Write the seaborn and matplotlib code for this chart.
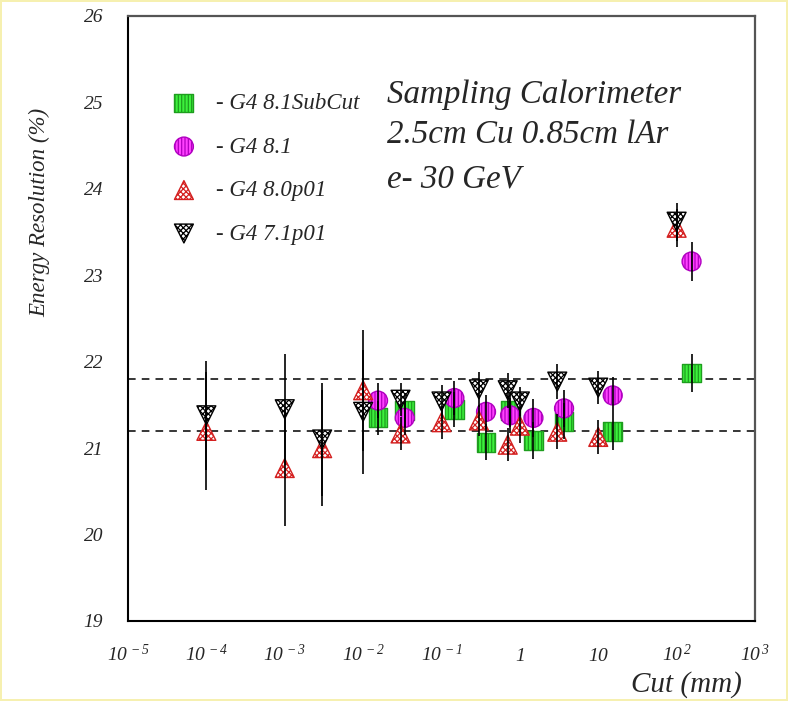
import matplotlib
matplotlib.use("Agg")
import matplotlib.pyplot as plt
import matplotlib.ticker as mticker
import numpy as np
import pandas as pd
import seaborn as sns

# cut values (mm)
cut_old = [1e-4, 1e-3, 3e-3, 1e-2, 3e-2, 0.1, 0.3, 0.7, 1, 3, 10, 100]
cut_new = [0.0155, 0.034, 0.146, 0.37, 0.75, 1.49, 3.66, 15.3, 155]

# G4 7.1p01
res_g471 = [21.38, 21.45, 21.10, 21.42, 21.56, 21.54, 21.68, 21.67, 21.54, 21.77, 21.70, 23.62]
err_g471 = [0.63, 0.64, 0.65, 0.72, 0.19, 0.19, 0.20, 0.20, 0.17, 0.20, 0.19, 0.22]
# G4 8.0p01
res_g480 = [21.20, 20.77, 21.00, 21.67, 21.17, 21.30, 21.32, 21.04, 21.26, 21.19, 21.13, 23.55]
err_g480 = [0.68, 0.67, 0.67, 0.70, 0.19, 0.19, 0.18, 0.19, 0.20, 0.20, 0.20, 0.22]
# G4 8.1
res_g481 = [21.55, 21.35, 21.58, 21.42, 21.38, 21.35, 21.46, 21.61, 23.16]
err_g481 = [0.20, 0.20, 0.20, 0.20, 0.20, 0.22, 0.21, 0.21, 0.23]
# G4 8.1SubCut
res_sub = [21.35, 21.44, 21.45, 21.07, 21.44, 21.09, 21.31, 21.19, 21.87]
err_sub = [0.20, 0.20, 0.20, 0.21, 0.20, 0.21, 0.21, 0.21, 0.22]

ref_lines = [21.2, 21.8]
xtick_vals = [1e-5, 1e-4, 1e-3, 1e-2, 1e-1, 1, 10, 100, 1000]
xtick_labels = [r"$10^{\,-5}$", r"$10^{\,-4}$", r"$10^{\,-3}$", r"$10^{\,-2}$",
                r"$10^{\,-1}$", r"$1$", r"$10$", r"$10^{\,2}$", r"$10^{\,3}$"]
info_lines = ["Sampling Calorimeter", "2.5cm Cu 0.85cm lAr", "e- 30 GeV"]

sns.set_style("white")
plt.rcParams["font.family"] = ["Liberation Serif", "DejaVu Serif"]
plt.rcParams["font.style"] = "italic"
plt.rcParams["mathtext.fontset"] = "custom"
plt.rcParams["mathtext.rm"] = "Liberation Serif:italic"
plt.rcParams["mathtext.it"] = "Liberation Serif:italic"
plt.rcParams["hatch.linewidth"] = 0.9

fig = plt.figure(figsize=(7.88, 7.01), dpi=100, facecolor="white",
                 edgecolor="#f6f0b0", linewidth=1.5)
ax = fig.add_axes([128 / 788, 1 - 621 / 701, 627 / 788, 605 / 701])

series = [
    ("- G4 8.1SubCut", cut_new, res_sub, err_sub, "s", "#3cf03c", "#1e9e1e", "|||||"),
    ("- G4 8.1", cut_new, res_g481, err_g481, "o", "#ff40ff", "#b000c0", "|||||"),
    ("- G4 8.0p01", cut_old, res_g480, err_g480, "^", "white", "#d42020", "xxxxxx"),
    ("- G4 7.1p01", cut_old, res_g471, err_g471, "v", "white", "black", "xxxxxx"),
]

handles = []
for name, xs, ys, es, mk, fc, ec, hat in series:
    df = pd.DataFrame({"cut": xs, "res": ys, "err": es})
    sns.scatterplot(data=df, x="cut", y="res", marker=mk, s=185, color=fc,
                    edgecolor=ec, linewidth=1.0, hatch=hat, ax=ax, zorder=2,
                    label=name, legend=False)
    handles.append(ax.collections[-1])

for name, xs, ys, es, mk, fc, ec, hat in series:
    ax.errorbar(xs, ys, yerr=es, fmt="none", ecolor="black", elinewidth=1.2,
                capsize=0, zorder=3)

for v in ref_lines:
    ax.axhline(v, color="black", lw=1.1, ls=(0, (5, 4)), zorder=1)

ax.set_xscale("log")
ax.set_xlim(1e-5, 1e3)
ax.set_ylim(19, 26)

ax.xaxis.set_major_locator(mticker.FixedLocator(xtick_vals))
ax.xaxis.set_major_formatter(mticker.FixedFormatter(xtick_labels))
ax.xaxis.set_minor_locator(mticker.LogLocator(base=10, subs=np.arange(2, 10), numticks=20))
ax.xaxis.set_minor_formatter(mticker.NullFormatter())
ax.yaxis.set_major_locator(mticker.MultipleLocator(1))
ax.yaxis.set_minor_locator(mticker.MultipleLocator(0.2))

ax.tick_params(axis="both", which="both", direction="in", color="black",
               top=False, right=False, width=1.0)
ax.tick_params(axis="both", which="major", length=17)
ax.tick_params(axis="both", which="minor", length=8.5)
ax.tick_params(axis="y", which="major", pad=18, labelsize=14)
ax.tick_params(axis="x", which="major", pad=29, labelsize=14)
for lab in ax.get_xticklabels():
    lab.set_verticalalignment("baseline")

ax.set_xlabel("")
ax.set_ylabel("")
for side in ["left", "bottom"]:
    ax.spines[side].set_color("black")
    ax.spines[side].set_linewidth(1.5)
for side in ["top", "right"]:
    ax.spines[side].set_color("#555555")
    ax.spines[side].set_linewidth(1.6)

leg = ax.legend(handles, [s[0] for s in series], loc="upper left",
                bbox_to_anchor=(161 / 788, 1 - 93 / 701),
                bbox_transform=fig.transFigure, frameon=False, fontsize=16.5,
                scatterpoints=1, handlelength=2.0, handletextpad=0.4,
                labelspacing=0.98, borderpad=0, borderaxespad=0)

for i, line in enumerate(info_lines):
    fig.text(387 / 788, 1 - [103, 143, 188][i] / 701, line, fontsize=23.8,
             style="italic", va="baseline", ha="left")

fig.text(40 / 788, 1 - 212 / 701, "Energy Resolution (%)", rotation=90,
         fontsize=16.5, style="italic", ha="center", va="center")
fig.text(742 / 788, 1 - 692 / 701, "Cut (mm)", fontsize=21, style="italic",
         ha="right", va="baseline")

fig.savefig("out.png", dpi=100, facecolor="white", edgecolor="#f6f0b0")
